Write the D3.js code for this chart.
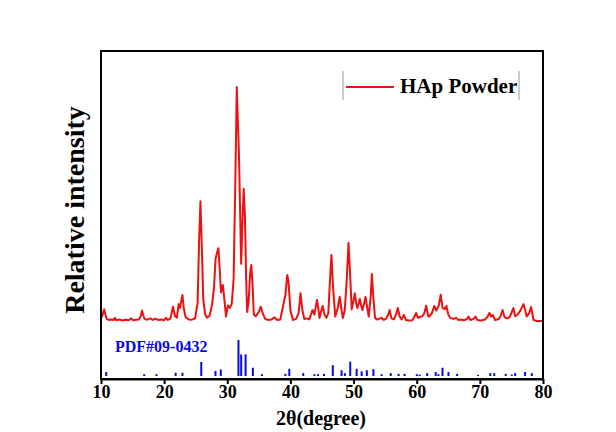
<!DOCTYPE html>
<html>
<head>
<meta charset="utf-8">
<script src="https://cdn.jsdelivr.net/npm/d3@7"></script>
<style>
  body { margin: 0; background: #fff; }
  svg { display: block; font-family: "Liberation Serif", "Times New Roman", serif; font-weight: bold; }
</style>
</head>
<body>
<div id="chart"></div>
<script>
// measured pattern: [2theta, counts]
const hapPowder = [
  [10.0, 112], [10.2, 120], [10.5, 145], [10.7, 125], [10.9, 108], [11.2, 104], [11.6, 106],
  [12.0, 104], [12.2, 112], [12.4, 103], [12.9, 106], [13.4, 102], [13.9, 105], [14.4, 103],
  [14.8, 110], [15.1, 103], [15.6, 105], [16.0, 106], [16.3, 118], [16.5, 140], [16.7, 122],
  [16.9, 108], [17.3, 105], [17.8, 110], [18.2, 104], [18.6, 109], [19.0, 104], [19.5, 106],
  [20.0, 103], [20.3, 112], [20.6, 104], [21.0, 110], [21.4, 155], [21.7, 120], [22.0, 112],
  [22.3, 165], [22.5, 150], [22.9, 200], [23.1, 150], [23.4, 115], [23.9, 106], [24.4, 105],
  [24.9, 110], [25.3, 170], [25.55, 420], [25.75, 560], [25.95, 400], [26.2, 180], [26.5, 125],
  [26.8, 113], [27.2, 120], [27.6, 165], [27.9, 230], [28.15, 340], [28.4, 365], [28.6, 380],
  [28.8, 300], [29.0, 210], [29.3, 238], [29.55, 180], [29.8, 117], [30.1, 160], [30.4, 150],
  [30.7, 165], [31.0, 260], [31.25, 600], [31.5, 1000], [31.7, 850], [31.85, 740], [32.0, 560],
  [32.2, 320], [32.4, 480], [32.6, 608], [32.8, 500], [33.0, 250], [33.15, 135], [33.4, 180],
  [33.6, 280], [33.8, 315], [34.0, 240], [34.2, 125], [34.5, 118], [35.0, 135], [35.3, 155],
  [35.6, 130], [36.0, 108], [36.5, 104], [37.0, 106], [37.5, 114], [37.9, 104], [38.4, 106],
  [38.8, 154], [39.2, 200], [39.5, 277], [39.7, 250], [40.0, 140], [40.4, 104], [40.9, 108],
  [41.3, 130], [41.6, 207], [41.9, 140], [42.2, 108], [42.6, 110], [43.0, 106], [43.5, 142],
  [43.8, 125], [44.2, 181], [44.4, 150], [44.6, 112], [44.9, 140], [45.1, 158], [45.4, 125],
  [45.7, 112], [46.0, 130], [46.25, 250], [46.5, 354], [46.75, 230], [47.1, 117], [47.5, 150],
  [47.8, 193], [48.05, 150], [48.3, 112], [48.6, 140], [48.9, 250], [49.2, 401], [49.45, 280],
  [49.7, 145], [50.0, 180], [50.2, 207], [50.4, 170], [50.6, 150], [51.0, 185], [51.2, 160],
  [51.4, 142], [51.7, 170], [51.9, 192], [52.1, 160], [52.4, 117], [52.7, 190], [52.9, 281],
  [53.1, 200], [53.4, 112], [53.7, 106], [54.0, 108], [54.4, 112], [54.8, 104], [55.2, 110],
  [55.5, 125], [55.7, 142], [56.0, 110], [56.4, 106], [56.8, 130], [57.0, 150], [57.3, 118],
  [57.6, 106], [57.95, 123], [58.3, 104], [58.8, 102], [59.3, 103], [59.7, 120], [59.9, 131],
  [60.2, 112], [60.5, 116], [60.9, 118], [61.2, 130], [61.5, 159], [61.8, 120], [62.0, 117],
  [62.4, 130], [62.8, 158], [63.1, 140], [63.5, 160], [63.8, 201], [64.1, 150], [64.4, 145],
  [64.7, 158], [65.0, 125], [65.3, 112], [65.8, 108], [66.25, 112], [66.6, 104], [67.0, 106],
  [67.5, 103], [68.0, 108], [68.2, 117], [68.5, 104], [69.0, 108], [69.3, 117], [69.6, 104],
  [70.2, 102], [70.8, 106], [71.2, 115], [71.5, 131], [71.8, 117], [72.05, 123], [72.4, 104],
  [73.0, 108], [73.3, 120], [73.6, 142], [73.9, 115], [74.3, 110], [74.7, 115], [75.0, 130],
  [75.3, 150], [75.6, 118], [76.0, 125], [76.4, 140], [76.9, 165], [77.2, 140], [77.4, 117],
  [77.8, 130], [78.1, 154], [78.3, 130], [78.5, 104], [79.0, 100], [79.5, 100], [80.0, 100]
];

// standard card PDF#09-0432: [2theta, relative intensity %]
const pdfCard = [
  [10.82, 11], [16.84, 5], [18.78, 5], [21.82, 9], [22.90, 9], [25.88, 39], [28.13, 14],
  [28.97, 18], [31.77, 100], [32.20, 60], [32.90, 60], [34.05, 23], [35.48, 5], [39.20, 6],
  [39.82, 20], [42.03, 8], [43.80, 5], [44.37, 5], [45.31, 6], [46.71, 30], [48.10, 16],
  [48.62, 8], [49.47, 40], [50.49, 20], [51.28, 13], [52.10, 16], [53.14, 19], [54.44, 5],
  [55.88, 8], [57.13, 6], [58.07, 6], [60.02, 5], [60.46, 4], [61.66, 8], [63.01, 11],
  [63.44, 5], [64.08, 23], [65.03, 11], [66.40, 6], [69.70, 3], [71.65, 8], [72.28, 8],
  [74.10, 6], [75.05, 4], [75.59, 8], [77.16, 11], [78.23, 8]
];

const xTicks = [10, 20, 30, 40, 50, 60, 70, 80];
const xDomain = [10, 80];
const seriesName = "HAp Powder";
const cardName = "PDF#09-0432";

const width = 616, height = 432;
const margin = { top: 51, right: 73, bottom: 53, left: 101 };

const svg = d3.select("#chart").append("svg")
  .attr("width", width)
  .attr("height", height);

const x = d3.scaleLinear().domain(xDomain).range([margin.left, width - margin.right]);
const y = d3.scaleLinear().domain([-123, 1138]).range([height - margin.bottom, margin.top]);
const yCard = d3.scaleLinear().domain([0, 100]).range([376, 340]);

// Drawing sticks
svg.append("g")
  .selectAll("line")
  .data(pdfCard)
  .join("line")
  .attr("x1", (d) => x(d[0]))
  .attr("x2", (d) => x(d[0]))
  .attr("y1", yCard(0))
  .attr("y2", (d) => yCard(d[1]))
  .attr("stroke", "#0a0ae6")
  .attr("stroke-width", 2);

// Drawing pattern
const line = d3.line().x((d) => x(d[0])).y((d) => y(d[1]));
svg.append("path")
  .datum(hapPowder)
  .attr("d", line)
  .attr("fill", "none")
  .attr("stroke", "#ee1111")
  .attr("stroke-width", 2)
  .attr("stroke-linejoin", "round");

// Frame
svg.append("rect")
  .attr("x", margin.left)
  .attr("y", margin.top)
  .attr("width", width - margin.left - margin.right)
  .attr("height", height - margin.top - margin.bottom)
  .attr("fill", "none")
  .attr("stroke", "#000")
  .attr("stroke-width", 2);

// X axis
const xAxis = svg.append("g")
  .attr("transform", `translate(0,${height - margin.bottom})`)
  .call(d3.axisBottom(x).tickValues(xTicks).tickSize(5).tickSizeOuter(0).tickPadding(1));
xAxis.select(".domain").attr("stroke-width", 2);
xAxis.selectAll(".tick line").attr("stroke-width", 2);
xAxis.selectAll(".tick text")
  .attr("font-family", "Liberation Serif, Times New Roman, serif")
  .attr("font-weight", "bold")
  .attr("font-size", 18)
  .attr("fill", "#000");

// Axis titles
svg.append("text")
  .attr("x", 321)
  .attr("y", 425)
  .attr("text-anchor", "middle")
  .attr("font-size", 20)
  .text("2θ(degree)");

svg.append("text")
  .attr("transform", "translate(84,210) rotate(-90)")
  .attr("text-anchor", "middle")
  .attr("font-size", 28)
  .text("Relative intensity");

// Card label
svg.append("text")
  .attr("x", 115)
  .attr("y", 352)
  .attr("font-size", 16)
  .attr("fill", "#0a0ae6")
  .text(cardName);

// Legend
const legend = svg.append("g");
legend.selectAll("line.edge")
  .data([343, 519])
  .join("line")
  .attr("class", "edge")
  .attr("x1", (d) => d).attr("x2", (d) => d)
  .attr("y1", 71).attr("y2", 100)
  .attr("stroke", "#999")
  .attr("stroke-width", 1);
legend.append("line")
  .attr("x1", 346).attr("x2", 394)
  .attr("y1", 87).attr("y2", 87)
  .attr("stroke", "#ee1111")
  .attr("stroke-width", 2);
legend.append("text")
  .attr("x", 400)
  .attr("y", 93)
  .attr("font-size", 21)
  .text(seriesName);
</script>
</body>
</html>
